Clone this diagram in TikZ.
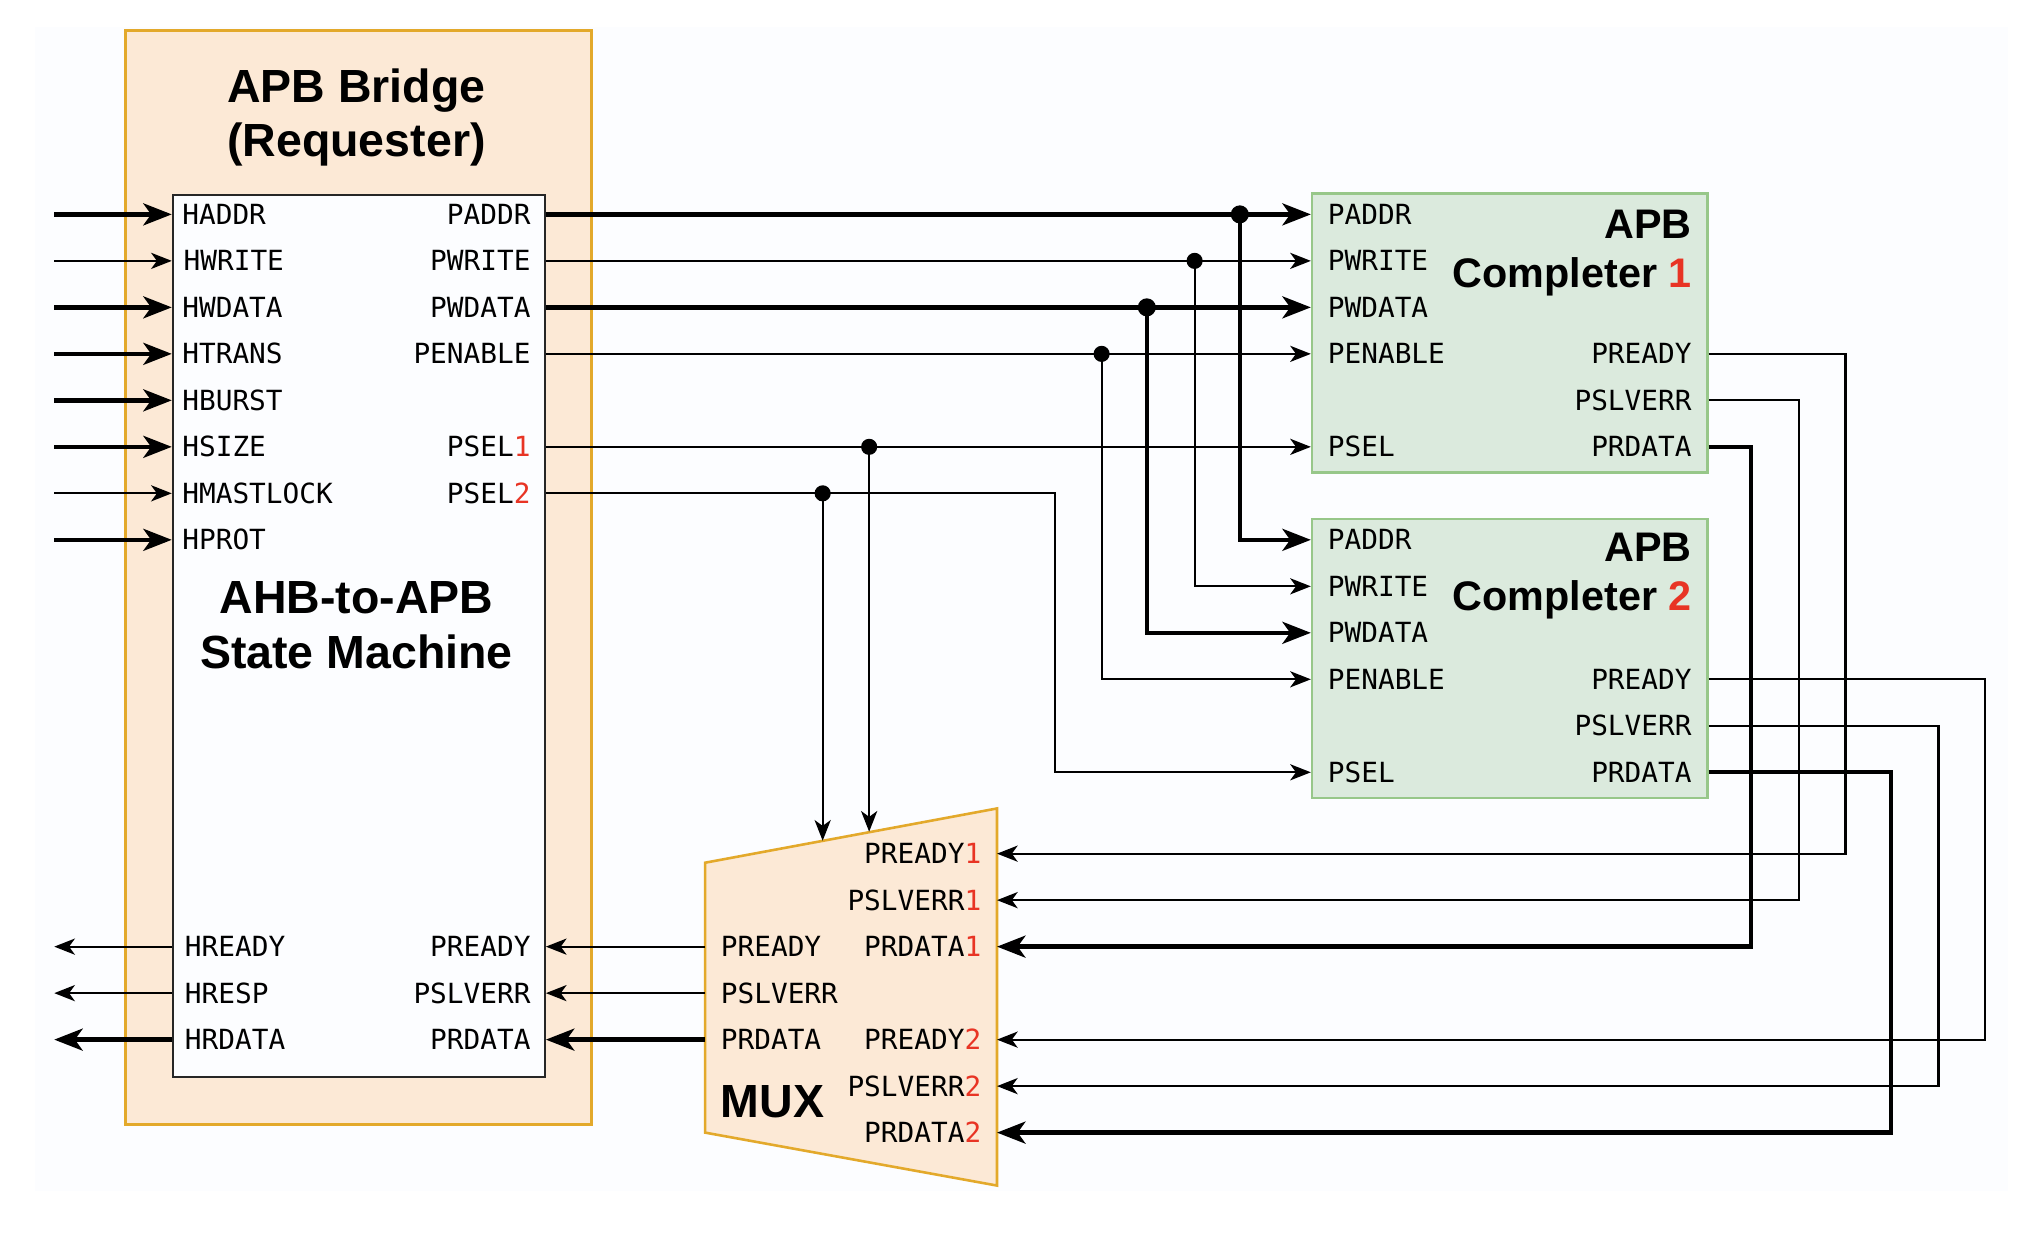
\documentclass[tikz,border=0pt]{standalone}
\usepackage{fontspec}
\setmainfont{Liberation Sans}
\newfontfamily\sigfamily{DejaVu Sans Mono}
\usetikzlibrary{arrows.meta}

\definecolor{bridgefill}{RGB}{252,233,214}
\definecolor{bridgeline}{RGB}{227,169,43}
\definecolor{compfill}{RGB}{219,234,221}
\definecolor{compline}{RGB}{151,199,137}
\definecolor{idxred}{RGB}{232,52,36}
\definecolor{canvas}{RGB}{252,253,255}

\newcommand{\idx}[1]{\textcolor{idxred}{#1}}

\begin{document}
\begin{tikzpicture}[x=1pt, y=-1pt,
    sig/.style={font=\sigfamily\fontsize{21.5}{25}\selectfont, inner sep=0pt, text height=15.6pt, text depth=0pt},
    title/.style={font=\bfseries\fontsize{36}{42}\selectfont, inner sep=0pt},
    ctitle/.style={font=\bfseries\fontsize{32}{38}\selectfont, inner sep=0pt},
    bridgebox/.style={draw=bridgeline, fill=bridgefill, line width=2pt, anchor=north west, inner sep=0pt},
    smbox/.style={draw=black!85, fill=canvas, line width=1.7pt, anchor=north west, inner sep=0pt},
    compbox/.style={draw=compline, fill=compfill, line width=2pt, anchor=north west, inner sep=0pt,
        minimum width=306pt, minimum height=216pt},
    wire/.style={line width=1.6pt, -{Stealth[length=16pt, width=12.5pt, inset=4.5pt]}},
    bus/.style={line width=3.4pt, -{Stealth[length=22pt, width=17pt, inset=6pt]}},
    dot/.style={circle, fill, inner sep=0pt, minimum size=12.5pt},
    bigdot/.style={circle, fill, inner sep=0pt, minimum size=14pt}]

    \useasboundingbox (0,0) rectangle (1568,955);
    \fill[canvas] (27,21) rectangle (1555,922);

    % APB bridge (requester)
    \node[bridgebox, minimum width=361pt, minimum height=847pt] (bridge) at (96,22.5) {};
    \node[title, anchor=base] (brtitle) at (276,79) {APB Bridge};
    \node[title, anchor=base] (brrole) at (276,121) {(Requester)};
    \node[smbox, minimum width=288pt, minimum height=683pt] (sm) at (133,150) {};
    \node[title, anchor=base] (smtitle) at (276,475) {AHB-to-APB};
    \node[title, anchor=base] (smrole) at (276,518) {State Machine};

    % AHB side
    \node[sig, anchor=west] (haddr) at (141,166) {HADDR};
    \node[sig, anchor=west] (hwrite) at (142,202) {HWRITE};
    \node[sig, anchor=west] (hwdata) at (141,238) {HWDATA};
    \node[sig, anchor=west] (htrans) at (141,274) {HTRANS};
    \node[sig, anchor=west] (hburst) at (141,310) {HBURST};
    \node[sig, anchor=west] (hsize) at (141,346) {HSIZE};
    \node[sig, anchor=west] (hmastlock) at (141,382) {HMASTLOCK};
    \node[sig, anchor=west] (hprot) at (141,418) {HPROT};
    \node[sig, anchor=west] (hready) at (143,733) {HREADY};
    \node[sig, anchor=west] (hresp) at (143,769) {HRESP};
    \node[sig, anchor=west] (hrdata) at (143,805) {HRDATA};

    % APB side
    \node[sig, anchor=east] (paddr) at (411,166) {PADDR};
    \node[sig, anchor=east] (pwrite) at (411,202) {PWRITE};
    \node[sig, anchor=east] (pwdata) at (411,238) {PWDATA};
    \node[sig, anchor=east] (penable) at (411,274) {PENABLE};
    \node[sig, anchor=east] (psel1) at (411,346) {PSEL\idx{1}};
    \node[sig, anchor=east] (psel2) at (411,382) {PSEL\idx{2}};
    \node[sig, anchor=east] (pready) at (411,733) {PREADY};
    \node[sig, anchor=east] (pslverr) at (411,769) {PSLVERR};
    \node[sig, anchor=east] (prdata) at (411,805) {PRDATA};

    % Completer 1
    \node[compbox] (c1) at (1015,149) {};
    \node[ctitle, anchor=base east] (c1title) at (1310,184.5) {APB};
    \node[ctitle, anchor=base east] (c1name) at (1310,222.5) {Completer \idx{1}};
    \node[sig, anchor=west] (c1paddr) at (1028,166) {PADDR};
    \node[sig, anchor=west] (c1pwrite) at (1028,202) {PWRITE};
    \node[sig, anchor=west] (c1pwdata) at (1028,238) {PWDATA};
    \node[sig, anchor=west] (c1penable) at (1028,274) {PENABLE};
    \node[sig, anchor=west] (c1psel) at (1028,346) {PSEL};
    \node[sig, anchor=east] (c1pready) at (1310,274) {PREADY};
    \node[sig, anchor=east] (c1pslverr) at (1310,310) {PSLVERR};
    \node[sig, anchor=east] (c1prdata) at (1310,346) {PRDATA};

    % Completer 2
    \begin{scope}[yshift=-252pt]
        \node[compbox] (c2) at (1015,149) {};
        \node[ctitle, anchor=base east] (c2title) at (1310,182.5) {APB};
        \node[ctitle, anchor=base east] (c2name) at (1310,220.5) {Completer \idx{2}};
        \node[sig, anchor=west] (c2paddr) at (1028,166) {PADDR};
        \node[sig, anchor=west] (c2pwrite) at (1028,202) {PWRITE};
        \node[sig, anchor=west] (c2pwdata) at (1028,238) {PWDATA};
        \node[sig, anchor=west] (c2penable) at (1028,274) {PENABLE};
        \node[sig, anchor=west] (c2psel) at (1028,346) {PSEL};
        \node[sig, anchor=east] (c2pready) at (1310,274) {PREADY};
        \node[sig, anchor=east] (c2pslverr) at (1310,310) {PSLVERR};
        \node[sig, anchor=east] (c2prdata) at (1310,346) {PRDATA};
    \end{scope}

    % MUX
    \coordinate (mux-nw) at (546,668);
    \coordinate (mux-ne) at (772,626);
    \coordinate (mux-se) at (772,918);
    \coordinate (mux-sw) at (546,877);
    \draw[draw=bridgeline, fill=bridgefill, line width=2pt, line join=miter]
        (mux-nw) -- (mux-ne) -- (mux-se) -- (mux-sw) -- cycle;
    \node[sig, anchor=east] (mready1) at (760,661) {PREADY\idx{1}};
    \node[sig, anchor=east] (mslverr1) at (760,697) {PSLVERR\idx{1}};
    \node[sig, anchor=east] (mrdata1) at (760,733) {PRDATA\idx{1}};
    \node[sig, anchor=east] (mready2) at (760,805) {PREADY\idx{2}};
    \node[sig, anchor=east] (mslverr2) at (760,841) {PSLVERR\idx{2}};
    \node[sig, anchor=east] (mrdata2) at (760,877) {PRDATA\idx{2}};
    \node[sig, anchor=west] (mready) at (558,733) {PREADY};
    \node[sig, anchor=west] (mslverr) at (558,769) {PSLVERR};
    \node[sig, anchor=west] (mrdata) at (558,805) {PRDATA};
    \node[title, anchor=base west] (muxname) at (558,865) {MUX};

    % free ends and bends
    \coordinate (inedge) at (42,0);
    \coordinate (selbend) at (817,0);
    \coordinate (mux-sel1) at (673,644);
    \coordinate (mux-sel2) at (637,651);
    \coordinate (ret1a) at (1429,0);
    \coordinate (ret1b) at (1393,0);
    \coordinate (ret1c) at (1356,0);
    \coordinate (ret2a) at (1537,0);
    \coordinate (ret2b) at (1501,0);
    \coordinate (ret2c) at (1464,0);

    % AHB inputs and outputs
    \draw[bus] (haddr.west -| inedge) -- (haddr.west -| sm.west);
    \draw[wire] (hwrite.west -| inedge) -- (hwrite.west -| sm.west);
    \draw[bus] (hwdata.west -| inedge) -- (hwdata.west -| sm.west);
    \draw[bus] (htrans.west -| inedge) -- (htrans.west -| sm.west);
    \draw[bus] (hburst.west -| inedge) -- (hburst.west -| sm.west);
    \draw[bus] (hsize.west -| inedge) -- (hsize.west -| sm.west);
    \draw[wire] (hmastlock.west -| inedge) -- (hmastlock.west -| sm.west);
    \draw[bus] (hprot.west -| inedge) -- (hprot.west -| sm.west);
    \draw[wire] (hready.west -| sm.west) -- (hready.west -| inedge);
    \draw[wire] (hresp.west -| sm.west) -- (hresp.west -| inedge);
    \draw[bus] (hrdata.west -| sm.west) -- (hrdata.west -| inedge);

    % bridge to completers
    \node[bigdot] (jaddr) at (960,166) {};
    \node[dot] (jwrite) at (925,202) {};
    \node[bigdot] (jwdata) at (888,238) {};
    \node[dot] (jenable) at (853,274) {};
    \node[dot] (jsel1) at (673,346) {};
    \node[dot] (jsel2) at (637,382) {};
    \draw[bus] (paddr.east -| sm.east) -- (c1paddr.west -| c1.west);
    \draw[wire] (pwrite.east -| sm.east) -- (c1pwrite.west -| c1.west);
    \draw[bus] (pwdata.east -| sm.east) -- (c1pwdata.west -| c1.west);
    \draw[wire] (penable.east -| sm.east) -- (c1penable.west -| c1.west);
    \draw[wire] (psel1.east -| sm.east) -- (c1psel.west -| c1.west);
    \draw[wire] (psel2.east -| sm.east) -| (c2psel.west -| selbend) -- (c2psel.west -| c2.west);
    \draw[bus] (jaddr.center) |- (c2paddr.west -| c2.west);
    \draw[wire] (jwrite.center) |- (c2pwrite.west -| c2.west);
    \draw[bus] (jwdata.center) |- (c2pwdata.west -| c2.west);
    \draw[wire] (jenable.center) |- (c2penable.west -| c2.west);
    \draw[wire] (jsel1.center) -- (mux-sel1);
    \draw[wire] (jsel2.center) -- (mux-sel2);

    % completers back to the MUX
    \draw[wire] (c1pready.east -| c1.east) -| (ret1a |- mready1.east) -- (mready1.east -| mux-ne);
    \draw[wire] (c1pslverr.east -| c1.east) -| (ret1b |- mslverr1.east) -- (mslverr1.east -| mux-ne);
    \draw[bus] (c1prdata.east -| c1.east) -| (ret1c |- mrdata1.east) -- (mrdata1.east -| mux-ne);
    \draw[wire] (c2pready.east -| c2.east) -| (ret2a |- mready2.east) -- (mready2.east -| mux-ne);
    \draw[wire] (c2pslverr.east -| c2.east) -| (ret2b |- mslverr2.east) -- (mslverr2.east -| mux-ne);
    \draw[bus] (c2prdata.east -| c2.east) -| (ret2c |- mrdata2.east) -- (mrdata2.east -| mux-ne);

    % MUX to bridge
    \draw[wire] (mready.west -| mux-nw) -- (pready.east -| sm.east);
    \draw[wire] (mslverr.west -| mux-nw) -- (pslverr.east -| sm.east);
    \draw[bus] (mrdata.west -| mux-nw) -- (prdata.east -| sm.east);
\end{tikzpicture}
\end{document}
